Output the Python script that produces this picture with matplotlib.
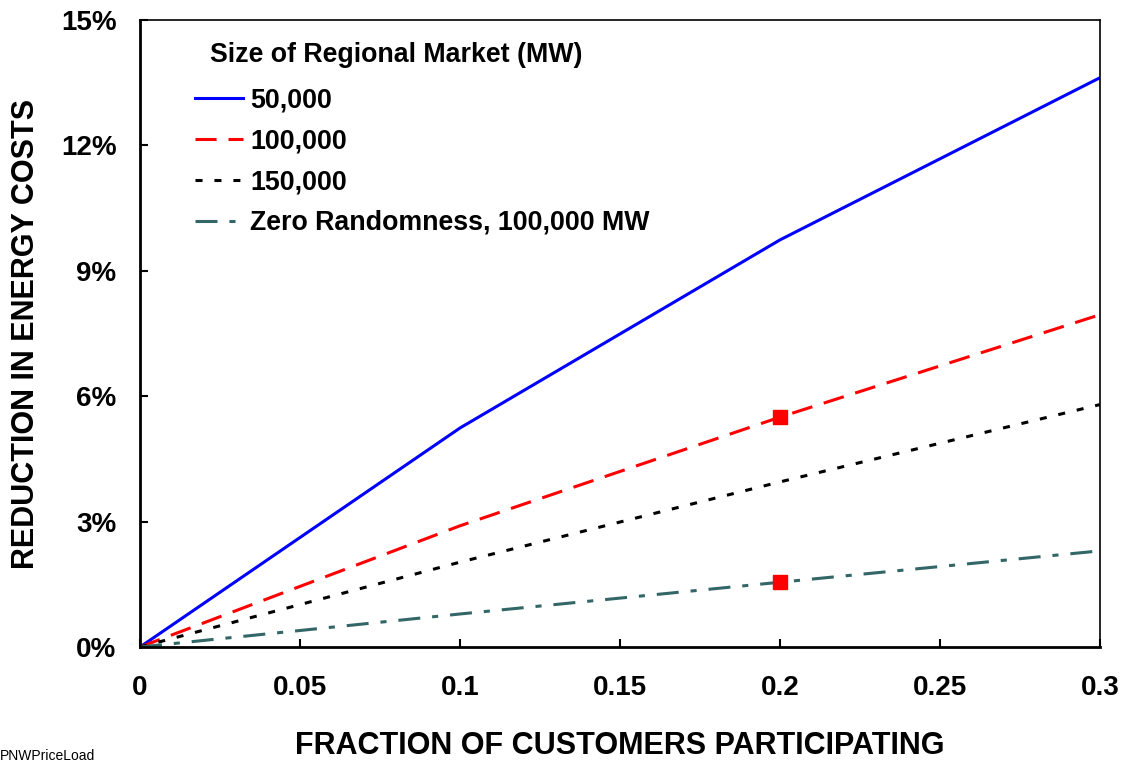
import numpy as np
from matplotlib import pyplot as plt
from matplotlib.ticker import FuncFormatter

plt.rcParams['font.family'] = ['Liberation Sans', 'DejaVu Sans']
plt.rcParams['font.weight'] = 'bold'

# fraction of customers participating
frac = [0, 0.1, 0.2, 0.3]
# reduction in energy costs (%)
mw50k = [0, 5.24, 9.74, 13.62]
mw100k = [0, 2.9, 5.5, 7.95]
mw150k = [0, 2.03, 3.95, 5.8]
zero_rand = [0, 0.79, 1.55, 2.3]
# highlighted points
mark_x = [0.2, 0.2]
mark_y = [5.5, 1.55]

fig = plt.figure(figsize=(11.22, 7.61), dpi=100)
ax = fig.add_axes([0.1248, 0.1498, 0.8556, 0.8239])

lw = 2.2
ax.plot(frac, mw50k, color='#0000ff', linewidth=lw, label='50,000')
ax.plot(frac, mw100k, color='#ff0000', linewidth=lw, dashes=(6.9, 3.9), label='100,000')
ax.plot(frac, mw150k, color='black', linewidth=lw, dashes=(2.3, 3.9), label='150,000')
ax.plot(frac, zero_rand, color='#336666', linewidth=lw, dashes=(7.2, 3.9, 2, 3.9),
        label='Zero Randomness, 100,000 MW')
ax.plot(mark_x, mark_y, linestyle='none', marker='s', markersize=9.5,
        color='#ff0000', zorder=5)

ax.set_xlim(0, 0.3)
ax.set_ylim(0, 15)
ax.set_xticks([0, 0.05, 0.1, 0.15, 0.2, 0.25, 0.3])
ax.set_xticklabels(['0', '0.05', '0.1', '0.15', '0.2', '0.25', '0.3'])
ax.set_yticks([0, 3, 6, 9, 12, 15])
ax.yaxis.set_major_formatter(FuncFormatter(lambda v, p: '%d%%' % v))
ax.tick_params(axis='both', direction='in', length=6, width=1.5,
               labelsize=20, pad=20)
ax.tick_params(axis='y', pad=17)
for side in ['left', 'bottom']:
    ax.spines[side].set_linewidth(2)
for side in ['top', 'right']:
    ax.spines[side].set_linewidth(1.2)

ax.set_xlabel('FRACTION OF CUSTOMERS PARTICIPATING', fontsize=22,
              fontweight='bold', labelpad=22)
ax.set_ylabel('REDUCTION IN ENERGY COSTS', fontsize=22, fontweight='bold',
              labelpad=14)

# legend title as its own text, indented past the handles like the original
ax.text(0.0729, 0.944, 'Size of Regional Market (MW)', transform=ax.transAxes,
        fontsize=19.3, fontweight='bold', va='center', ha='left')
ax.legend(loc='upper left', bbox_to_anchor=(0.0573, 0.892), frameon=False,
          fontsize=19.3, borderpad=0, borderaxespad=0,
          handlelength=1.8, handletextpad=0.26, labelspacing=0.55)

fig.text(0.0, 0.001, 'PNWPriceLoad', fontsize=10, fontweight='normal')

plt.savefig('out.png', dpi=100)
